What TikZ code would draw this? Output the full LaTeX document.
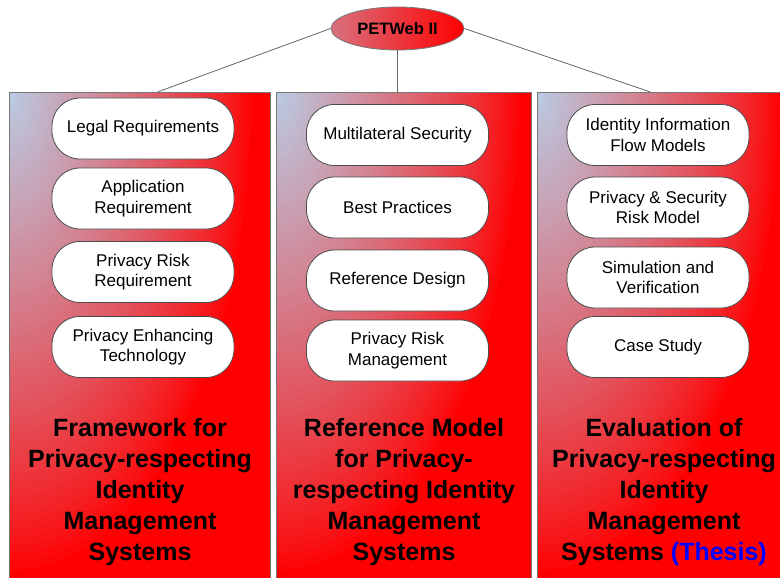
\documentclass[tikz,border=0pt]{standalone}
\usepackage{fontspec}
\setmainfont{Liberation Sans}
\usetikzlibrary{shapes.geometric}
\definecolor{paleblue}{RGB}{185,205,229}
\definecolor{edgegray}{RGB}{120,120,120}
\definecolor{thesisblue}{RGB}{0,0,255}
\tikzset{
	% red panel, fading to pale blue towards its top left corner
	column/.style={draw=edgegray,line width=0.8pt,rectangle,fill=red,anchor=north west,inner sep=0pt,
		minimum width=#1,minimum height=490pt,
		path picture={
			\foreach \i [evaluate=\i as \p using {100*(1-\i/60)^0.85}] in {60,59,...,1}
				\fill[paleblue!\p!red] (path picture bounding box.north west)
					ellipse [x radius={4.1pt*\i},y radius={8.1pt*\i}];
		}},
	pill/.style={draw=black!70,line width=0.8pt,fill=white,rectangle,rounded corners=28pt,
		minimum width=182pt,minimum height=61pt,align=center,font=\fontsize{17}{20.5}\selectfont},
	title/.style={align=center,font=\fontsize{25}{31}\selectfont\bfseries},
	root/.style={draw=edgegray,line width=0.8pt,ellipse,minimum width=133pt,minimum height=43pt,inner sep=0pt,
		left color=paleblue!55!red,right color=red,font=\fontsize{16.5}{20}\selectfont\bfseries},
	link/.style={draw=black!60,line width=0.8pt}
}

\begin{document}
\begin{tikzpicture}[x=1pt,y=-1pt]
	\useasboundingbox[fill=white] (0,0) rectangle (780,578);

	\node[column=261pt] (col1) at (9,92) {};
	\node[column=255pt] (col2) at (276,92) {};
	\node[column=258pt] (col3) at (537,92) {};

	\node[pill] (legal) at (143,128.5) {Legal Requirements};
	\node[pill] (app) at (143,198.5) {Application\\Requirement};
	\node[pill] (risk) at (143,272) {Privacy Risk\\Requirement};
	\node[pill] (pet) at (143,347) {Privacy Enhancing\\Technology};

	\node[pill] (mls) at (397.5,135) {Multilateral Security};
	\node[pill] (best) at (397.5,207.5) {Best Practices};
	\node[pill] (design) at (397.5,280.5) {Reference Design};
	\node[pill] (prm) at (397.5,350.5) {Privacy Risk\\Management};

	\node[pill] (flow) at (658,135) {Identity Information\\Flow Models};
	\node[pill] (srm) at (658,207.5) {Privacy \& Security\\Risk Model};
	\node[pill] (sim) at (658,277.5) {Simulation and\\Verification};
	\node[pill] (case) at (658,347) {Case Study};

	\node[title] (t1) at (140,492) {Framework for\\Privacy-respecting\\Identity\\Management\\Systems};
	\node[title] (t2) at (404,492) {Reference Model\\for Privacy-\\respecting Identity\\Management\\Systems};
	\node[title] (t3) at (664,492) {Evaluation of\\Privacy-respecting\\Identity\\Management\\Systems \textcolor{thesisblue}{(Thesis)}};

	\node[root] (root) at (397.5,28.5) {PETWeb II};
	\draw[link] (root.west) -- ([xshift=17.5pt]col1.north);
	\draw[link] (root.south) -- (root.south |- col2.north);
	\draw[link] (root.east) -- ([xshift=-16pt]col3.north);
\end{tikzpicture}
\end{document}
